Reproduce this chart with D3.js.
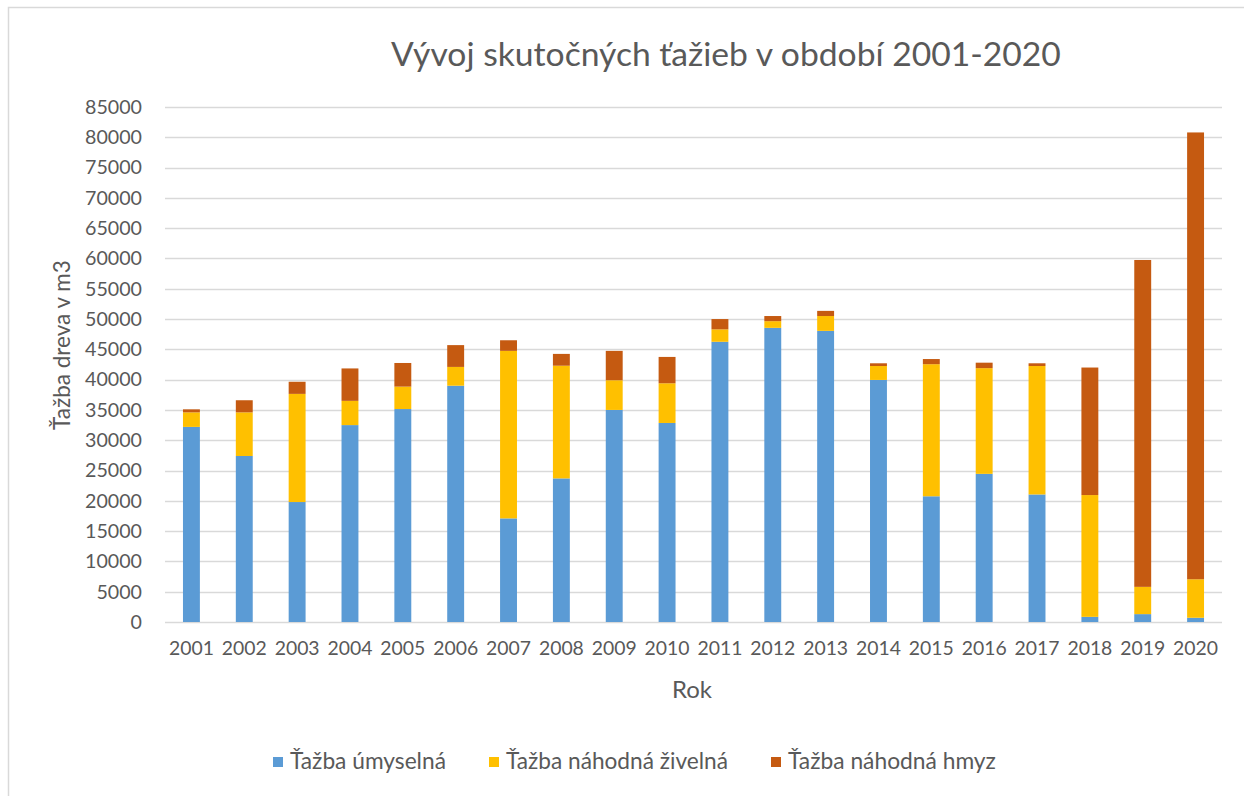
<!DOCTYPE html>
<html lang="sk">
<head>
    <meta charset="utf-8">
    <title>Vývoj skutočných ťažieb</title>
    <script type="text/javascript" src="https://cdnjs.cloudflare.com/ajax/libs/d3/7.8.5/d3.min.js"></script>
    <style>
        body { margin: 0; background: #fff; }
        text { font-family: "Open Sans", "Liberation Sans", sans-serif; fill: #595959; }
    </style>
</head>
<body>
    <script type="text/javascript">
    //data
    var years = ["2001","2002","2003","2004","2005","2006","2007","2008","2009","2010",
                 "2011","2012","2013","2014","2015","2016","2017","2018","2019","2020"];
    var umyselna = [32200, 27400, 19800, 32500, 35150, 39000, 17100, 23700, 35000, 32850,
                    46250, 48550, 48050, 39950, 20750, 24450, 21050, 850, 1300, 700];
    var zivelna  = [2400, 7200, 17850, 4000, 3700, 3100, 27650, 18600, 4900, 6550,
                    2050, 1100, 2450, 2300, 21800, 17450, 21200, 20100, 4500, 6350];
    var hmyz     = [500, 2000, 2000, 5350, 3900, 3600, 1750, 1950, 4850, 4350,
                    1700, 850, 850, 450, 850, 900, 450, 21050, 53950, 73750];
    var seriesNames = ["Ťažba úmyselná", "Ťažba náhodná živelná", "Ťažba náhodná hmyz"];
    var colors = ["#5B9BD5", "#FFC000", "#C55A11"];
    var yTicks = d3.range(0, 85001, 5000);

    //dimensions
    var W = 1244, H = 796;
    var plot = {left: 165, right: 1222, top: 107, bottom: 622};

    var svg = d3.select("body").append("svg")
                .attr("width", W)
                .attr("height", H);

    // shrink/grow a text's font so it spans about the wanted width
    function fitWidth(sel, base, wanted) {
        sel.style("font-size", base + "px");
        var w = sel.node().getComputedTextLength();
        var size = base * wanted / w;
        sel.style("font-size", size.toFixed(2) + "px");
        return size;
    }

    //chart border (runs off the right and bottom edge)
    svg.append("rect")
       .attr("x", 8.5).attr("y", 7.5)
       .attr("width", W + 20).attr("height", H + 20)
       .attr("fill", "none")
       .attr("stroke", "#d9d9d9")
       .attr("stroke-width", 1.5);

    var table = years.map(function(y, i) {
        return {year: y, a: umyselna[i], b: zivelna[i], c: hmyz[i]};
    });
    var stacked = d3.stack().keys(["a", "b", "c"])(table);

    var x = d3.scaleBand()
              .domain(years)
              .range([plot.left, plot.right])
              .paddingInner(0.68)
              .paddingOuter(0.34);

    var y = d3.scaleLinear()
              .domain([0, 85000])
              .range([plot.bottom, plot.top]);

    //gridlines
    svg.append("g")
       .selectAll("line")
       .data(yTicks)
       .enter()
       .append("line")
       .attr("x1", plot.left)
       .attr("x2", plot.right)
       .attr("y1", function(d) { return Math.round(y(d)) + 0.5; })
       .attr("y2", function(d) { return Math.round(y(d)) + 0.5; })
       .attr("stroke", "#d9d9d9")
       .attr("stroke-width", 1.3);

    //y axis labels
    var yAxis = d3.axisLeft(y).tickValues(yTicks).tickSize(0).tickPadding(0)
                  .tickFormat(function(d) { return d; });
    var gy = svg.append("g")
       .attr("transform", "translate(142,0)")
       .call(yAxis);
    gy.select(".domain").remove();
    gy.selectAll("text").attr("fill", "#595959")
      .style("font-family", "Lato, sans-serif");
    var ySize = fitWidth(gy.selectAll("text").filter(function(d) { return d === 85000; }), 20, 57);
    gy.selectAll("text").style("font-size", ySize + "px");

    //bars
    svg.append("g")
       .selectAll("g")
       .data(stacked)
       .enter()
       .append("g")
       .attr("fill", function(d, i) { return colors[i]; })
       .selectAll("rect")
       .data(function(d) { return d; })
       .enter()
       .append("rect")
       .attr("x", function(d) { return x(d.data.year); })
       .attr("width", x.bandwidth())
       .attr("y", function(d) { return y(d[1]); })
       .attr("height", function(d) { return y(d[0]) - y(d[1]); });

    //x axis labels
    var xAxis = d3.axisBottom(x).tickSize(0).tickPadding(0);
    var gx = svg.append("g")
       .attr("transform", "translate(0,641)")
       .call(xAxis);
    gx.select(".domain").remove();
    gx.selectAll("text").attr("fill", "#595959")
      .style("font-family", "Lato, sans-serif");
    var xSize = fitWidth(gx.selectAll("text").filter(function(d) { return d === "2001"; }), 20, 45);
    gx.selectAll("text").style("font-size", xSize + "px");

    //title
    var title = svg.append("text")
       .attr("x", 726)
       .attr("y", 66)
       .attr("text-anchor", "middle")
       .style("font-family", "Lato, sans-serif")
       .text("Vývoj skutočných ťažieb v období 2001-2020");
    fitWidth(title, 30, 670);

    //axis titles
    var xTitle = svg.append("text")
       .attr("x", 692)
       .attr("y", 698)
       .attr("text-anchor", "middle")
       .style("font-family", "Lato, sans-serif")
       .text("Rok");
    fitWidth(xTitle, 22, 40);

    var yTitle = svg.append("text")
       .attr("transform", "translate(70,345) rotate(-90)")
       .attr("text-anchor", "middle")
       .style("font-family", "Lato, sans-serif")
       .text("Ťažba dreva v m3");
    fitWidth(yTitle, 22, 170);

    //legend
    var legendX = [273, 489, 771];
    var legendW = [156, 222, 208];
    var legend = svg.append("g")
       .selectAll("g")
       .data(seriesNames)
       .enter()
       .append("g")
       .attr("transform", function(d, i) { return "translate(" + legendX[i] + ",757)"; });
    legend.append("rect")
       .attr("width", 10).attr("height", 10)
       .attr("fill", function(d, i) { return colors[i]; });
    legend.append("text")
       .attr("x", 17)
       .attr("y", 12)
       .style("font-family", "Lato, sans-serif")
       .text(function(d) { return d; })
       .each(function(d, i) { fitWidth(d3.select(this), 20, legendW[i]); });
    </script>
</body>
</html>
